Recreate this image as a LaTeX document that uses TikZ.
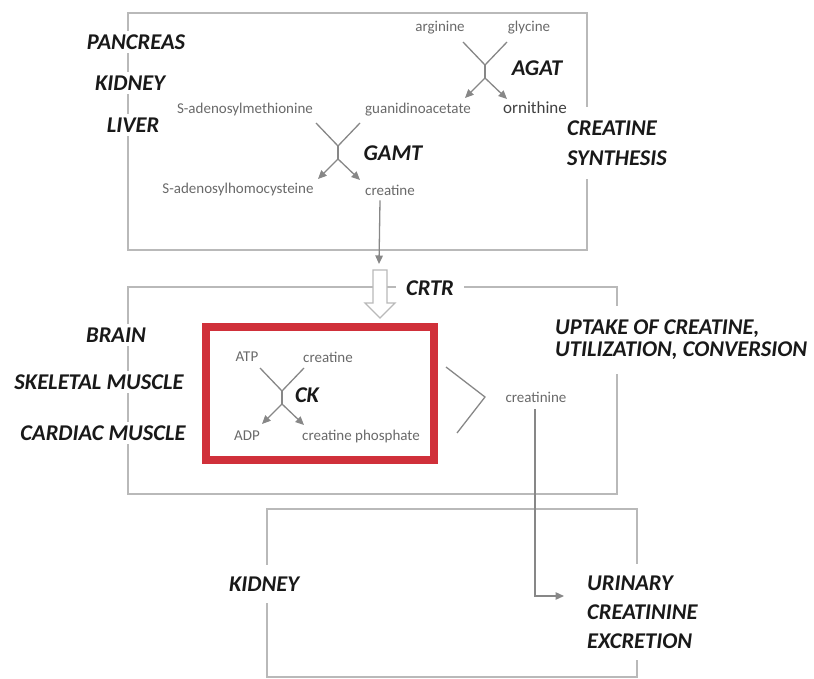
\documentclass[tikz,border=0pt]{standalone}
\usepackage{fontspec}
\setmainfont{Carlito}
\usetikzlibrary{arrows.meta, positioning}

\definecolor{ckred}{RGB}{208,48,58}
\definecolor{boxgray}{RGB}{185,185,185}
\definecolor{linegray}{RGB}{135,135,135}
\definecolor{textgray}{RGB}{105,105,105}

\begin{document}
\begin{tikzpicture}[
        x=1pt, y=-1pt,
        % Regions
        region/.style={
                draw=boxgray,
                line width=1.4pt
            },
        % Organ and process labels
        organ/.style={
                fill=white,
                inner sep=4pt,
                align=left,
                text=black!90,
                font=\fontsize{22.5}{30}\selectfont\bfseries\itshape
            },
        % Metabolites
        compound/.style={
                inner sep=1pt,
                text=textgray,
                font=\fontsize{15}{17}\selectfont
            },
        enzyme/.style={
                inner sep=1pt,
                text=black!90,
                font=\fontsize{22.5}{24}\selectfont\bfseries\itshape
            },
        % Lines and arrows
        reaction/.style={
                draw=linegray,
                line width=1.3pt
            },
        arrow/.style={
                -{Triangle[length=8.5pt,width=7.5pt]},
                line width=1.3pt,
                color=linegray
            }
    ]

    \useasboundingbox (0,0) rectangle (814,679);

    % REGIONS
    \draw[region] (128,13) rectangle (587,250);
    \draw[region] (128,287) rectangle (617,494);
    \draw[region] (267,509) rectangle (637,677);
    \draw[draw=ckred, line width=7.5pt] (206,327) rectangle (434,460);

    % SYNTHESIS (top)
    \node[organ] (pancreas) at (136,42) {PANCREAS};
    \node[organ] (kidney1) at (130,83) {KIDNEY};
    \node[organ] (liver) at (133,125) {LIVER};
    \node[organ, anchor=west, inner xsep=2pt, inner ysep=14pt] (synthesis) at (565,143) {CREATINE\\SYNTHESIS};

    \node[compound] (arginine) at (440,28) {arginine};
    \node[compound] (glycine) at (529,28) {glycine};
    \node[enzyme] (agat) at (537,68) {AGAT};
    \node[compound] (guanidino) at (418,110) {guanidinoacetate};
    \node[compound, text=black!75, font=\fontsize{17}{19}\selectfont] (ornithine) at (535,108) {ornithine};
    \node[compound] (sam) at (245,110) {S-adenosylmethionine};
    \node[enzyme] (gamt) at (393,153) {GAMT};
    \node[compound] (sah) at (238,190) {S-adenosylhomocysteine};
    \node[compound] (creatine1) at (390,190) {creatine};

    % UPTAKE (middle)
    \node[organ] (brain) at (116,335) {BRAIN};
    \node[organ] (skeletal) at (99,382) {SKELETAL MUSCLE};
    \node[organ] (cardiac) at (103,433) {CARDIAC MUSCLE};
    \node[organ, anchor=west, inner xsep=2pt, inner ysep=14pt, font=\fontsize{22.5}{22}\selectfont\bfseries\itshape] (uptake) at (553,340) {UPTAKE OF CREATINE,\\UTILIZATION, CONVERSION};

    \node[compound] (atp) at (247,357) {ATP};
    \node[compound] (creatine2) at (328,357) {creatine};
    \node[enzyme] (ck) at (307,395) {CK};
    \node[compound] (adp) at (247,436) {ADP};
    \node[compound] (phosphate) at (361,436) {creatine phosphate};
    \node[compound] (creatinine) at (536,397) {creatinine};

    % EXCRETION (bottom)
    \node[organ, inner ysep=12pt] (kidney2) at (264,584) {KIDNEY};
    \node[organ, anchor=west, inner xsep=2pt, inner ysep=12pt, font=\fontsize{22.5}{29}\selectfont\bfseries\itshape] (urinary) at (585,612) {URINARY\\CREATININE\\EXCRETION};

    % REACTIONS
    \foreach \cx/\cy/\nm in {485/42/agatx, 338/123/gamtx, 282/368/ckx} {
        \coordinate (\nm-l) at (\cx-22,\cy);
        \coordinate (\nm-r) at (\cx+22,\cy);
        \coordinate (\nm-j) at (\cx,\cy+23);
        \coordinate (\nm-m) at (\cx,\cy+36);
        \coordinate (\nm-ol) at (\cx-20,\cy+56);
        \coordinate (\nm-or) at (\cx+22,\cy+57);
        \draw[reaction] (\nm-l) -- (\nm-j) -- (\nm-r);
        \draw[reaction] (\nm-j) -- (\nm-m);
        \draw[arrow] (\nm-m) -- (\nm-ol);
        \draw[arrow] (\nm-m) -- (\nm-or);
    }

    % TRANSPORT
    \coordinate (crtrin) at (379,264);
    \draw[arrow] ([xshift=-10pt, yshift=-4pt]creatine1.south) -- (crtrin);
    \draw[draw=boxgray, line width=1.4pt, fill=white]
        (373,270) -- (387,270) -- (387,303) -- (395,303) -- (380,318)
        -- (365,303) -- (373,303) -- cycle;
    \node[organ, inner xsep=10pt, inner ysep=2pt] (crtr) at (430,288) {CRTR};

    % CONVERSION
    \draw[reaction] (446,367) -- (485,397) -- (457,433);
    \coordinate (urinein) at (564,596);
    \draw[arrow] ([xshift=-1pt, yshift=-6pt]creatinine.south) |- (urinein);

\end{tikzpicture}
\end{document}
